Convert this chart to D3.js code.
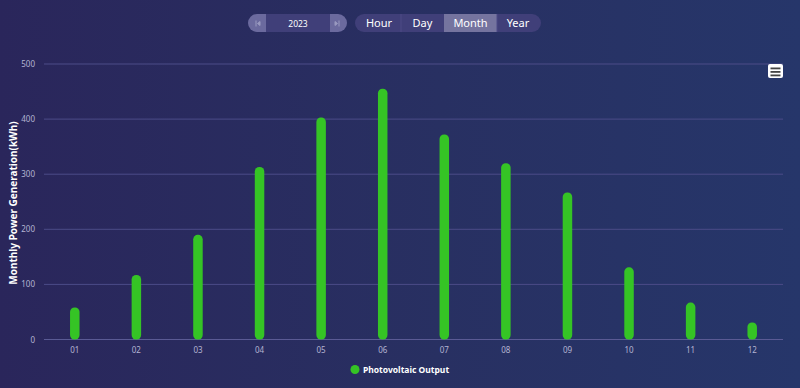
<!DOCTYPE html>
<html><head><meta charset="utf-8">
<script src="https://cdn.jsdelivr.net/npm/d3@7"></script>
<style>
html,body{margin:0;padding:0;width:800px;height:388px;overflow:hidden;}
body{background:linear-gradient(90deg,#2a265b 0%,#283062 55%,#26366a 100%);}
svg{display:block;font-family:"Noto Sans","Open Sans",sans-serif;}
</style></head><body>
<svg id="c" width="800" height="388"></svg>
<script>
const categories = ["01","02","03","04","05","06","07","08","09","10","11","12"];
const pvOutput = [58, 117, 190, 313, 403, 455, 372, 320, 267, 131, 67, 31];
const yTicks = [0,100,200,300,400,500];
const seriesName = "Photovoltaic Output";
const yTitle = "Monthly Power Generation(kWh)";
const year = "2023";
const periods = ["Hour","Day","Month","Year"];
const activePeriod = "Month";

const svg = d3.select("#c");
const M = {l:44, r:783, t:64, b:339.5};
const x = d3.scaleBand().domain(categories).range([M.l, M.r]);
const y = d3.scaleLinear().domain([0,500]).range([M.b, M.t]);

// grid
svg.append("g").selectAll("line").data(yTicks).join("line")
  .attr("x1", M.l).attr("x2", M.r)
  .attr("y1", d=>y(d)).attr("y2", d=>y(d))
  .attr("stroke", d=> d===0 ? "#5a5a94" : "#4c4c88").attr("stroke-width",1);

// y labels
svg.append("g").selectAll("text").data(yTicks).join("text")
  .attr("x", 35).attr("y", d=>y(d)+3)
  .attr("text-anchor","end").attr("font-size",8).attr("fill","#b4b4d2").text(d=>d);

// x labels
svg.append("g").selectAll("text").data(categories).join("text")
  .attr("x", d=>x(d)+x.bandwidth()/2).attr("y", 353)
  .attr("text-anchor","middle").attr("font-size",8).attr("fill","#b4b4d2").text(d=>d);

// y title
svg.append("text").attr("transform","translate(17,203) rotate(-90)")
  .attr("text-anchor","middle").attr("font-size",10).attr("font-weight","bold")
  .attr("fill","#ffffff").text(yTitle);

// bars
const bw = 9.5;
svg.append("g").selectAll("rect").data(pvOutput).join("rect")
  .attr("x", (d,i)=>x(categories[i])+x.bandwidth()/2-bw/2)
  .attr("y", d=>y(d)).attr("width", bw).attr("height", d=>M.b-y(d))
  .attr("rx", 4.5).attr("fill","#35c425");

// legend
svg.append("circle").attr("cx",355).attr("cy",369.5).attr("r",4.5).attr("fill","#35c425");
svg.append("text").attr("x",363).attr("y",372.5).attr("font-size",8.5).attr("font-weight","bold")
  .attr("fill","#ffffff").text(seriesName);

// menu icon
const mi = svg.append("g");
mi.append("rect").attr("x",768).attr("y",64).attr("width",15).attr("height",14).attr("rx",2).attr("fill","#ffffff");
[67.5,71,74.5].forEach(yy=>mi.append("rect").attr("x",770.5).attr("y",yy).attr("width",10).attr("height",1.8).attr("fill","#444"));

// year picker
const yp = svg.append("g");
yp.append("rect").attr("x",248).attr("y",14).attr("width",99).attr("height",18).attr("rx",9).attr("fill","#6b6a9e");
yp.append("rect").attr("x",266).attr("y",14).attr("width",64).attr("height",18).attr("fill","#403f79");
yp.append("text").attr("x",298).attr("y",26.5).attr("text-anchor","middle").attr("font-size",8.5).attr("fill","#ffffff").text(year);
yp.append("path").attr("d","M256,20.5 v6 M257.5,23.5 l2.5,-2 v4 z").attr("stroke","#9a9ac0").attr("stroke-width",1).attr("fill","#9a9ac0");
yp.append("path").attr("d","M339,20.5 v6 M337.5,23.5 l-2.5,-2 v4 z").attr("stroke","#9a9ac0").attr("stroke-width",1).attr("fill","#9a9ac0");

// period buttons
const pb = svg.append("g");
const bx = [355,401,444,497,541];
pb.append("rect").attr("x",355).attr("y",14).attr("width",186).attr("height",18).attr("rx",9).attr("fill","#403f79");
const ai = periods.indexOf(activePeriod);
pb.append("rect").attr("x",bx[ai]).attr("y",14).attr("width",bx[ai+1]-bx[ai]).attr("height",18).attr("fill","#75749f");
pb.selectAll("line.sep").data([1,3]).join("line").attr("class","sep")
  .attr("x1",d=>bx[d]).attr("x2",d=>bx[d]).attr("y1",14).attr("y2",32).attr("stroke","#4c4b86");
pb.selectAll("text").data(periods).join("text")
  .attr("x",(d,i)=>(bx[i]+bx[i+1])/2 + (i===0?1:(i===3?-1:0))).attr("y",27)
  .attr("text-anchor","middle").attr("font-size",11).attr("fill","#ffffff").text(d=>d);
</script>
</body></html>
